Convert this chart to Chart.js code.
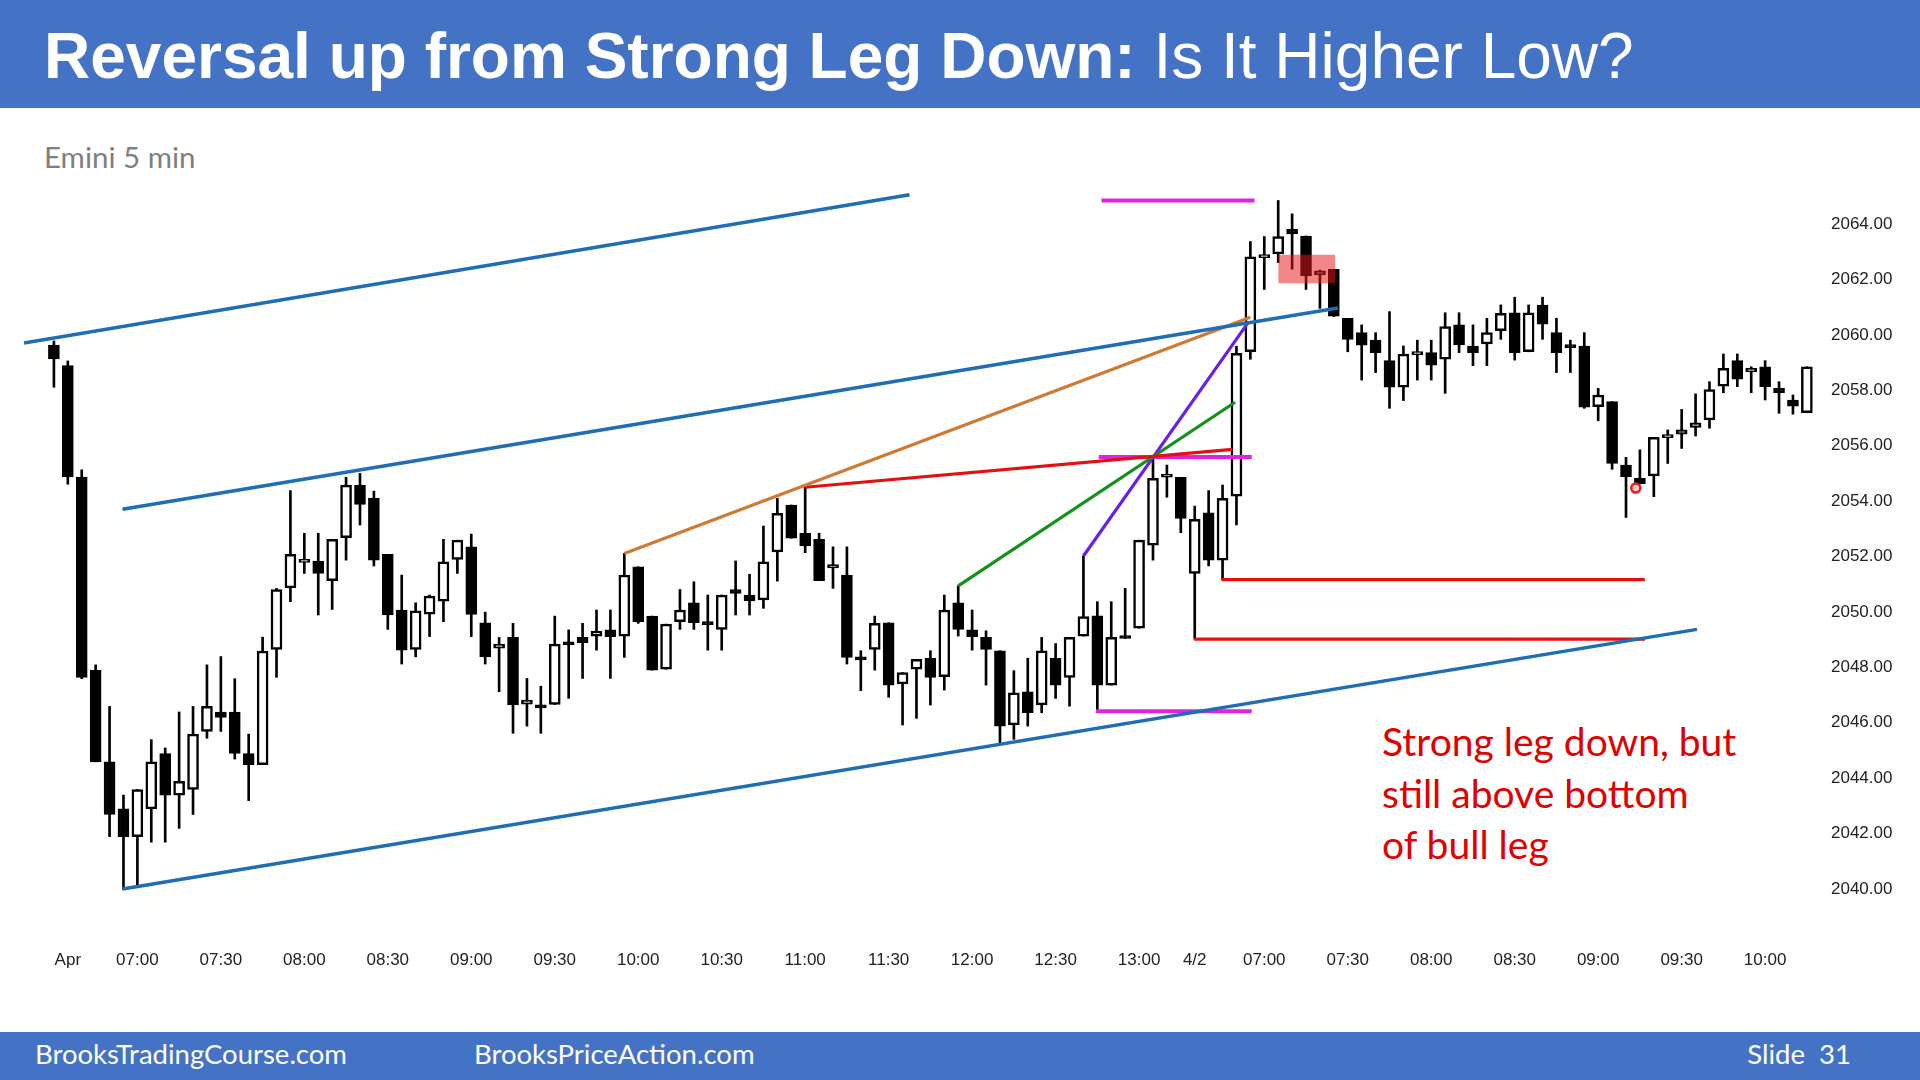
<!DOCTYPE html>
<html>
<head>
<meta charset="utf-8">
<title>Reversal up from Strong Leg Down</title>
<script src="https://cdn.jsdelivr.net/npm/chart.js@4.4.1/dist/chart.umd.min.js"></script>
<style>
  html, body { margin: 0; padding: 0; width: 1920px; height: 1080px; overflow: hidden; background: #fff; }
  .band { position: absolute; left: 0; width: 1920px; background: #4472c4; color: #fff; }
  .header { top: 0; height: 108px; font-family: "Liberation Sans", Arial, sans-serif; font-size: 64px; line-height: 108px; padding: 2px 0 0 44px; box-sizing: border-box; white-space: nowrap; }
  .header b { font-weight: bold; }
  .footer { top: 1032px; height: 48px; font-family: Lato, "Open Sans", sans-serif; font-size: 27.5px; line-height: 44px; }
  .footer span { position: absolute; top: 0; white-space: nowrap; }
  .subtitle { position: absolute; left: 44px; top: 139px; font-family: Lato, "Open Sans", sans-serif; font-size: 29.5px; color: #7f7f7f; }
  .note { position: absolute; left: 1382px; top: 716px; font-family: Lato, "Open Sans", sans-serif; font-size: 39px; line-height: 51.5px; color: #e00000; }
  #wrap { position: absolute; left: 0; top: 0; width: 1920px; height: 1080px; }
</style>
</head>
<body>
<div class="band header"><b>Reversal up from Strong Leg Down:</b> Is It Higher Low?</div>
<div class="subtitle">Emini 5 min</div>
<div class="note">Strong leg down, but<br>still above bottom<br>of bull leg</div>
<div class="band footer">
  <span style="left:35px">BrooksTradingCourse.com</span>
  <span style="left:474px">BrooksPriceAction.com</span>
  <span style="right:69px">Slide&nbsp; 31</span>
</div>
<div id="wrap"><canvas id="chart" width="1920" height="1080"></canvas></div>

<script>
// 5분봉 OHLC (인덱스 0 = 4/1 첫 봉, 82 = 4/2 첫 봉)
const opens = [
  2059.54, 2058.80, 2054.78, 2047.80, 2044.50, 2042.80, 2041.80, 2042.80, 2044.80, 2043.30,
  2043.50, 2045.60, 2046.30, 2046.30, 2044.80, 2044.40, 2048.56, 2050.78, 2051.70, 2051.75,
  2051.04, 2052.59, 2054.49, 2054.01, 2051.99, 2049.98, 2048.56, 2049.83, 2050.30, 2051.81,
  2052.26, 2049.52, 2048.60, 2048.99, 2046.58, 2046.50, 2046.57, 2048.76, 2048.99, 2049.04,
  2049.26, 2049.04, 2051.54, 2049.76, 2047.84, 2049.56, 2050.24, 2049.50, 2049.28, 2050.72,
  2050.52, 2050.34, 2052.08, 2053.77, 2052.75, 2052.53, 2051.50, 2051.24, 2048.22, 2048.56,
  2049.52, 2047.31, 2047.84, 2048.24, 2047.57, 2050.24, 2049.26, 2048.99, 2048.51, 2045.83,
  2047.03, 2046.55, 2048.24, 2047.55, 2049.04, 2049.77, 2047.27, 2048.99, 2049.32, 2052.32,
  2054.77, 2054.77, 2051.30, 2053.49, 2051.78, 2054.09, 2059.30, 2062.70, 2062.83, 2063.72,
  2063.48, 2062.07, 2062.28, 2060.51, 2059.99, 2059.72, 2058.98, 2058.02, 2059.20, 2059.27,
  2059.03, 2060.27, 2059.51, 2059.58, 2060.06, 2060.71, 2059.30, 2060.99, 2059.99, 2059.50,
  2059.51, 2057.32, 2057.50, 2055.21, 2054.73, 2054.82, 2056.20, 2056.33, 2056.57, 2056.84,
  2058.06, 2058.98, 2058.58, 2058.76, 2057.98, 2057.56, 2057.10
];
const highs = [
  2059.69, 2058.97, 2055.04, 2048.00, 2046.50, 2043.30, 2043.50, 2045.30, 2045.00, 2046.30,
  2046.50, 2048.00, 2048.30, 2047.50, 2045.50, 2049.00, 2050.76, 2054.29, 2052.75, 2052.75,
  2052.53, 2054.77, 2054.91, 2054.27, 2051.99, 2051.24, 2050.24, 2050.52, 2052.53, 2052.50,
  2052.72, 2049.90, 2048.99, 2049.50, 2047.51, 2047.23, 2049.76, 2049.26, 2049.50, 2049.98,
  2049.98, 2052.02, 2051.54, 2049.76, 2049.47, 2050.72, 2051.00, 2050.52, 2050.52, 2051.75,
  2051.27, 2053.01, 2054.01, 2053.77, 2054.41, 2052.75, 2052.26, 2052.26, 2048.51, 2049.76,
  2049.52, 2047.72, 2048.20, 2048.51, 2050.52, 2050.85, 2049.98, 2049.23, 2048.51, 2047.79,
  2048.24, 2048.99, 2048.77, 2048.99, 2051.93, 2050.28, 2050.28, 2050.76, 2052.50, 2055.45,
  2055.21, 2054.77, 2053.73, 2054.29, 2054.49, 2059.50, 2063.28, 2063.46, 2064.76, 2064.28,
  2063.48, 2062.25, 2062.28, 2060.51, 2060.27, 2059.99, 2060.75, 2059.51, 2059.72, 2059.72,
  2060.71, 2060.71, 2060.27, 2060.51, 2060.99, 2061.27, 2060.99, 2061.27, 2060.51, 2059.72,
  2059.99, 2057.98, 2057.50, 2055.49, 2055.76, 2056.21, 2056.48, 2057.22, 2057.78, 2058.22,
  2059.22, 2059.22, 2058.76, 2058.98, 2058.22, 2057.74, 2058.76
];
const lows = [
  2058.02, 2054.52, 2047.50, 2044.50, 2041.80, 2039.90, 2040.00, 2041.60, 2041.60, 2042.10,
  2042.60, 2045.35, 2045.60, 2044.60, 2043.10, 2044.40, 2047.55, 2050.28, 2051.30, 2049.80,
  2050.00, 2051.78, 2053.05, 2051.57, 2049.28, 2048.03, 2048.29, 2049.02, 2049.56, 2051.30,
  2049.02, 2048.03, 2047.03, 2045.53, 2045.79, 2045.53, 2046.57, 2046.79, 2047.51, 2048.53,
  2047.51, 2048.27, 2049.50, 2047.81, 2047.84, 2049.28, 2049.28, 2048.53, 2048.53, 2049.80,
  2049.80, 2050.04, 2051.02, 2052.57, 2052.05, 2051.04, 2050.76, 2048.03, 2047.07, 2047.81,
  2046.83, 2045.83, 2046.07, 2046.55, 2047.09, 2049.04, 2048.53, 2047.27, 2045.16, 2045.31,
  2045.79, 2046.27, 2046.79, 2046.51, 2049.04, 2046.31, 2047.27, 2048.95, 2049.32, 2051.78,
  2054.05, 2052.77, 2048.93, 2051.57, 2051.06, 2053.05, 2059.03, 2061.55, 2062.52, 2062.28,
  2061.55, 2060.87, 2060.57, 2059.30, 2058.28, 2058.55, 2057.26, 2057.54, 2058.28, 2058.28,
  2057.80, 2059.27, 2058.80, 2058.80, 2059.75, 2059.00, 2059.30, 2059.75, 2058.55, 2058.55,
  2057.26, 2056.81, 2055.06, 2053.32, 2054.53, 2054.07, 2055.27, 2055.81, 2056.26, 2056.54,
  2057.82, 2058.04, 2057.82, 2057.56, 2057.08, 2057.05, 2057.10
];
const closes = [
  2059.04, 2054.78, 2047.55, 2044.50, 2042.60, 2041.80, 2043.50, 2044.50, 2043.30, 2043.80,
  2045.50, 2046.50, 2046.10, 2044.80, 2044.40, 2048.50, 2050.72, 2051.99, 2051.75, 2051.30,
  2052.53, 2054.49, 2053.79, 2051.78, 2049.80, 2048.53, 2049.95, 2050.48, 2051.72, 2052.50,
  2049.82, 2048.29, 2048.75, 2046.55, 2046.73, 2046.45, 2048.75, 2048.72, 2048.80, 2049.22,
  2049.02, 2051.24, 2049.56, 2047.81, 2049.47, 2049.98, 2049.52, 2049.45, 2050.52, 2050.58,
  2050.31, 2051.72, 2053.47, 2052.57, 2052.29, 2051.04, 2051.62, 2048.27, 2048.18, 2049.50,
  2047.27, 2047.72, 2048.20, 2047.55, 2049.98, 2049.28, 2049.02, 2048.56, 2045.79, 2046.99,
  2046.27, 2048.51, 2047.27, 2048.99, 2049.74, 2047.27, 2048.99, 2048.95, 2052.50, 2054.73,
  2054.80, 2053.29, 2053.25, 2051.78, 2054.01, 2059.24, 2062.73, 2062.75, 2063.46, 2063.55,
  2062.04, 2062.22, 2060.59, 2059.75, 2059.54, 2059.27, 2058.02, 2059.22, 2059.25, 2058.82,
  2060.21, 2059.55, 2059.27, 2059.99, 2060.69, 2059.27, 2060.71, 2060.30, 2059.27, 2059.45,
  2057.30, 2057.74, 2055.27, 2054.79, 2054.53, 2056.21, 2056.25, 2056.48, 2056.74, 2057.94,
  2058.70, 2058.31, 2058.70, 2058.04, 2057.82, 2057.34, 2058.76
];

// x축 라벨 (봉 인덱스 위치)
const timeTickIndex = [1, 6, 12, 18, 24, 30, 36, 42, 48, 54, 60, 66, 72, 78, 82, 87, 93, 99, 105, 111, 117, 123];
const timeTickText = ["Apr", "07:00", "07:30", "08:00", "08:30", "09:00", "09:30", "10:00", "10:30", "11:00", "11:30",
  "12:00", "12:30", "13:00", "4/2", "07:00", "07:30", "08:00", "08:30", "09:00", "09:30", "10:00"];
const priceTicks = [2040, 2042, 2044, 2046, 2048, 2050, 2052, 2054, 2056, 2058, 2060, 2062, 2064];

// 추세선 / 채널선: 양 끝점 (봉 인덱스, 가격)
const channelTop = [{ x: -2.15, y: 2059.62 }, { x: 61.5, y: 2064.97 }];
const channelMid = [{ x: 4.93, y: 2053.62 }, { x: 92.3, y: 2060.88 }];
const channelLow = [{ x: 4.93, y: 2039.91 }, { x: 118.1, y: 2049.28 }];
const orangeLine = [{ x: 41, y: 2052.02 }, { x: 86, y: 2060.55 }];
const redTopLine = [{ x: 54, y: 2054.41 }, { x: 84.7, y: 2055.78 }];
const greenLine = [{ x: 65, y: 2050.85 }, { x: 84.9, y: 2057.48 }];
const purpleLine = [{ x: 74, y: 2051.93 }, { x: 85.9, y: 2060.4 }];
const magentaHigh = [{ x: 75.3, y: 2064.76 }, { x: 86.3, y: 2064.76 }];
const magentaMid = [{ x: 75.1, y: 2055.5 }, { x: 86.1, y: 2055.5 }];
const magentaLow = [{ x: 74.9, y: 2046.33 }, { x: 86.1, y: 2046.33 }];
const redLevelA = [{ x: 83.95, y: 2051.08 }, { x: 114.35, y: 2051.08 }];
const redLevelB = [{ x: 81.96, y: 2048.93 }, { x: 114.35, y: 2048.93 }];
const shadedBox = [{ x: 88.0, y: 2062.8 }, { x: 92.1, y: 2062.8 }];
const shadedBoxBottom = 2061.77;
const cursorDot = [{ x: 113.7, y: 2054.38 }];

function lineSet(data, color, width) {
  return {
    type: "line",
    data: data,
    borderColor: color,
    borderWidth: width,
    pointRadius: 0,
    fill: false,
    tension: 0,
    order: 0,
  };
}

function createCandleChart(canvasId) {
  const canvas = document.getElementById(canvasId);
  if (!canvas) {
    console.error(`[Chart] Canvas with id ${canvasId} not found.`);
    return null;
  }
  const ctx = canvas.getContext("2d");

  const wicks = lows.map((l, i) => ({ x: i, y: [l, highs[i]] }));
  const bodies = opens.map((o, i) => ({ x: i, y: [o, closes[i]] }));
  const bodyFill = opens.map((o, i) => (closes[i] > o ? "#ffffff" : "#000000"));

  const tickFont = { family: "'Liberation Sans', Arial, sans-serif", size: 17 };

  return new Chart(ctx, {
    type: "bar",
    data: {
      datasets: [
        lineSet(channelTop, "#1f6db4", 3.5),
        lineSet(channelMid, "#1f6db4", 3.5),
        lineSet(channelLow, "#1f6db4", 3.5),
        lineSet(orangeLine, "#cf7a33", 3.2),
        lineSet(redTopLine, "#e31010", 3.2),
        lineSet(greenLine, "#15901a", 3.2),
        lineSet(purpleLine, "#6a1fe6", 3.2),
        lineSet(magentaHigh, "#e024dc", 4),
        lineSet(magentaMid, "#e024dc", 4),
        lineSet(magentaLow, "#e024dc", 4),
        lineSet(redLevelA, "#e31010", 3.2),
        lineSet(redLevelB, "#e31010", 3.2),
        {
          type: "scatter",
          data: cursorDot,
          pointRadius: 4.5,
          borderWidth: 2.5,
          borderColor: "#e81c1c",
          backgroundColor: "#ffc8c8",
          order: 0,
        },
        {
          // 빨간 음영 박스
          type: "line",
          data: shadedBox,
          borderWidth: 0,
          pointRadius: 0,
          fill: { value: shadedBoxBottom },
          backgroundColor: "rgba(232, 24, 24, 0.52)",
          order: 1,
        },
        {
          label: "body",
          data: bodies,
          backgroundColor: bodyFill,
          borderColor: "#000000",
          borderWidth: 2.5,
          borderSkipped: false,
          barThickness: 11,
          minBarLength: 3,
          grouped: false,
          order: 2,
        },
        {
          label: "wick",
          data: wicks,
          backgroundColor: "#000000",
          borderWidth: 0,
          barThickness: 2,
          grouped: false,
          order: 3,
        },
      ],
    },
    options: {
      responsive: false,
      animation: false,
      layout: { padding: { left: 24, top: 185, right: 0, bottom: 90 } },
      scales: {
        x: {
          type: "linear",
          min: -2.15,
          max: 126.8,
          offset: false,
          grid: { display: false, drawTicks: false },
          border: { display: false },
          afterFit: (scale) => { scale.height = 60; },
          afterBuildTicks: (scale) => { scale.ticks = timeTickIndex.map((v) => ({ value: v })); },
          ticks: {
            font: tickFont,
            color: "#222222",
            padding: 20,
            maxRotation: 0,
            autoSkip: false,
            callback: (value) => {
              const k = timeTickIndex.indexOf(value);
              return k >= 0 ? timeTickText[k] : "";
            },
          },
        },
        y: {
          type: "linear",
          position: "right",
          min: 2038.43,
          max: 2065.32,
          grid: { display: false, drawTicks: false },
          border: { display: false },
          afterFit: (scale) => { scale.width = 102; },
          afterBuildTicks: (scale) => { scale.ticks = priceTicks.map((v) => ({ value: v })); },
          ticks: {
            font: tickFont,
            color: "#222222",
            padding: 13,
            labelOffset: 2.5,
            callback: (value) => value.toFixed(2),
          },
        },
      },
      plugins: {
        legend: { display: false },
        tooltip: { enabled: false },
      },
    },
  });
}

createCandleChart("chart");
</script>
</body>
</html>
